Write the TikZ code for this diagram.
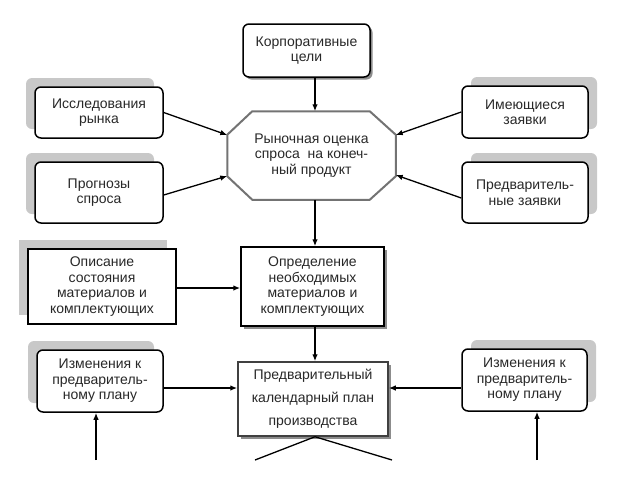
\documentclass[tikz,border=0pt]{standalone}
\usepackage{fontspec}
\setmainfont{Liberation Sans}
\usetikzlibrary{arrows.meta,shadows,calc,backgrounds}
\definecolor{shgray}{RGB}{200,200,200}
\definecolor{txt}{RGB}{40,40,40}
\tikzset{
  base/.style={draw=black, line width=1.5pt, fill=white, inner sep=0pt, align=center,
    text=txt, font=\fontsize{14}{15.5}\selectfont},
  rbox/.style={base, rounded corners=6pt},
  sbox/.style={base},
  shL/.style={general shadow={fill=shgray, shadow xshift=-9pt, shadow yshift=9pt}},
  shR/.style={general shadow={fill=shgray, shadow xshift=9pt, shadow yshift=9pt}},
  shD/.style={drop shadow={shadow xshift=2.5pt, shadow yshift=-2.5pt, fill=black, opacity=0.45}},
  arr/.style={-{Latex[length=7pt,width=5.5pt]}, line width=1.3pt},
  ln/.style={line width=1.3pt}
}
\begin{document}
\begin{tikzpicture}[x=1pt,y=-1pt]
\useasboundingbox (0,0) rectangle (640,480);
% nodes
\node[rbox,shD,minimum width=127pt,minimum height=53pt] (korp) at (306.5,50.5) {Корпоративные\\цели};
\node[rbox,shL,minimum width=128pt,minimum height=51pt] (issl) at (99,112.5) {Исследования\\рынка};
\node[rbox,shL,minimum width=128pt,minimum height=61pt] (progn) at (99,192.5) {Прогнозы\\спроса};
\node[rbox,shR,minimum width=126pt,minimum height=52pt] (imeu) at (525,112) {Имеющиеся\\заявки};
\node[rbox,shR,minimum width=126pt,minimum height=61pt] (predz) at (525,192.5) {Предваритель-\\ные заявки};
\node[base,draw=none,fill=none,minimum width=167pt,minimum height=87pt] (oct) at (311.5,155.5) {Рыночная оценка\\спроса\ \ на конеч-\\ный продукт};
\node[sbox,shL,minimum width=148pt,minimum height=75pt] (opis) at (102,286.5) {Описание\\состояния\\материалов и\\комплектующих};
\node[sbox,shD,minimum width=143pt,minimum height=79pt] (opred) at (312.5,286.5) {Определение\\необходимых\\материалов и\\комплектующих};
\node[sbox,shD,draw=black!75,minimum width=150pt,minimum height=74pt,font=\fontsize{14}{23}\selectfont] (plan) at (313,399) {Предварительный\\календарный план\\производства};
\node[rbox,shL,minimum width=126pt,minimum height=62pt] (izmL) at (100,381) {Изменения к\\предваритель-\\ному плану};
\node[rbox,shR,minimum width=125pt,minimum height=62pt] (izmR) at (524.5,380) {Изменения к\\предваритель-\\ному плану};
% octagon outline behind its text
\begin{scope}[on background layer]
  \path[fill=black!45,xshift=2.5pt,yshift=-2.5pt]
    ($(oct.north west)+(25,0)$) -- ($(oct.north east)+(-26,0)$) -- ($(oct.north east)+(0,23.5)$) --
    ($(oct.south east)+(0,-23.5)$) -- ($(oct.south east)+(-26,0)$) -- ($(oct.south west)+(25,0)$) --
    ($(oct.south west)+(0,-23.5)$) -- ($(oct.north west)+(0,23.5)$) -- cycle;
  \path[fill=white,draw=black!55,line width=2pt]
    ($(oct.north west)+(25,0)$) -- ($(oct.north east)+(-26,0)$) -- ($(oct.north east)+(0,23.5)$) --
    ($(oct.south east)+(0,-23.5)$) -- ($(oct.south east)+(-26,0)$) -- ($(oct.south west)+(25,0)$) --
    ($(oct.south west)+(0,-23.5)$) -- ($(oct.north west)+(0,23.5)$) -- cycle;
\end{scope}
% helper coordinates
\coordinate (cx) at (315,0);
\coordinate (yl) at (0,388);
\coordinate (yo) at (0,288);
\coordinate (bl) at (96,460);
\coordinate (br) at (537,460);
\coordinate (dl) at (255,460);
\coordinate (dr) at (392,460);
% connectors
\draw[arr] (korp.south -| cx) -- (oct.north -| cx);
\draw[arr] (issl.east) -- ($(oct.west)+(0,-20.5)$);
\draw[arr] ($(progn.east)+(0,2.5)$) -- ($(oct.west)+(0,20.5)$);
\draw[arr] (imeu.west) -- ($(oct.east)+(0,-20.5)$);
\draw[arr] ($(predz.west)+(0,5.5)$) -- ($(oct.east)+(0,19.5)$);
\draw[arr] (oct.south -| cx) -- (opred.north -| cx);
\draw[arr] (opis.east |- yo) -- (opred.west |- yo);
\draw[arr] (opred.south -| cx) -- (plan.north -| cx);
\draw[arr] (izmL.east |- yl) -- (plan.west |- yl);
\draw[arr] (izmR.west |- yl) -- (plan.east |- yl);
\draw[arr] (bl) -- (izmL.south -| bl);
\draw[arr] (br) -- (izmR.south -| br);
\draw[ln] (plan.south -| cx) -- (dl);
\draw[ln] (plan.south -| cx) -- (dr);
\end{tikzpicture}
\end{document}
